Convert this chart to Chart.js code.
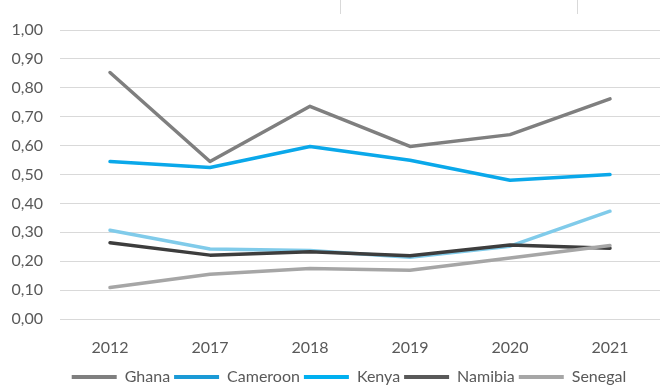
<!DOCTYPE html>
<html>
<head>
<meta charset="utf-8">
<script src="https://cdn.jsdelivr.net/npm/chart.js@4.4.1/dist/chart.umd.min.js"></script>
<style>
  html, body { margin: 0; padding: 0; background: #ffffff; }
  #wrap { width: 663px; height: 390px; position: relative; }
</style>
</head>
<body>
<div id="wrap"><canvas id="c" width="663" height="390"></canvas></div>
<script>
const years = ["2012", "2017", "2018", "2019", "2020", "2021"];
const ghana    = [0.853, 0.545, 0.736, 0.597, 0.638, 0.762];
const cameroon = [0.545, 0.524, 0.597, 0.549, 0.480, 0.500];
const kenya    = [0.307, 0.242, 0.237, 0.214, 0.252, 0.373];
const namibia  = [0.264, 0.221, 0.233, 0.219, 0.256, 0.245];
const senegal  = [0.109, 0.155, 0.175, 0.169, 0.211, 0.254];

const seriesNames  = ["Ghana", "Cameroon", "Kenya", "Namibia", "Senegal"];
const seriesData   = [ghana, cameroon, kenya, namibia, senegal];
const lineColors   = ["#7f7f7f", "#0aa8ea", "#80cbea", "#3d3d3d", "#a6a6a6"];
const legendColors = ["#7f7f7f", "#1b9ad6", "#00b0f0", "#595959", "#a6a6a6"];

const FONT = "Lato";

const topMarks = {
  id: 'topMarks',
  afterDraw(chart) {
    const ctx = chart.ctx;
    ctx.save();
    ctx.strokeStyle = '#d9d9d9';
    ctx.lineWidth = 1;
    [340.5, 577.5].forEach(x => {
      ctx.beginPath();
      ctx.moveTo(x, 0);
      ctx.lineTo(x, 14);
      ctx.stroke();
    });
    ctx.restore();
  }
};

const legendShift = {
  id: 'legendShift',
  afterLayout(chart) {
    const lg = chart.legend;
    if (!lg) return;
    lg.left += 19; lg.right += 19;
    lg.top += 5; lg.bottom += 5;
  }
};

new Chart(document.getElementById('c'), {
  type: 'line',
  data: {
    labels: years,
    datasets: seriesData.map((d, i) => ({
      label: seriesNames[i],
      data: d,
      borderColor: lineColors[i],
      backgroundColor: lineColors[i],
      borderWidth: 3.5,
      pointRadius: 0,
      pointHoverRadius: 0,
      tension: 0,
      borderCapStyle: 'round',
      borderJoinStyle: 'round',
      order: seriesNames.length - i
    }))
  },
  options: {
    responsive: false,
    animation: false,
    devicePixelRatio: 1,
    layout: { padding: { top: 30, right: 3, left: 0, bottom: 0 } },
    plugins: {
      tooltip: { enabled: false },
      legend: {
        position: 'bottom',
        labels: {
          font: { family: FONT, size: 16 },
          color: '#595959',
          boxWidth: 45,
          boxHeight: 4,
          padding: 4,
          generateLabels(chart) {
            return seriesNames.map((n, i) => ({
              text: n,
              fillStyle: legendColors[i],
              strokeStyle: legendColors[i],
              lineWidth: 0,
              hidden: false,
              datasetIndex: i,
              fontColor: '#595959'
            }));
          }
        }
      }
    },
    scales: {
      x: {
        offset: true,
        grid: { display: false, drawTicks: false },
        border: { display: false },
        ticks: {
          font: { family: FONT, size: 16 },
          color: '#595959',
          padding: 19,
          maxRotation: 0
        },
        afterFit(s) { s.height = 41; }
      },
      y: {
        min: 0,
        max: 1,
        grid: { color: '#d9d9d9', lineWidth: 1, drawTicks: false },
        border: { display: false },
        ticks: {
          stepSize: 0.1,
          font: { family: FONT, size: 16 },
          color: '#595959',
          padding: 17,
          callback: v => Number(v).toFixed(2).replace('.', ',')
        },
        afterFit(s) { s.width = 60; }
      }
    }
  },
  plugins: [topMarks, legendShift]
});
</script>
</body>
</html>
